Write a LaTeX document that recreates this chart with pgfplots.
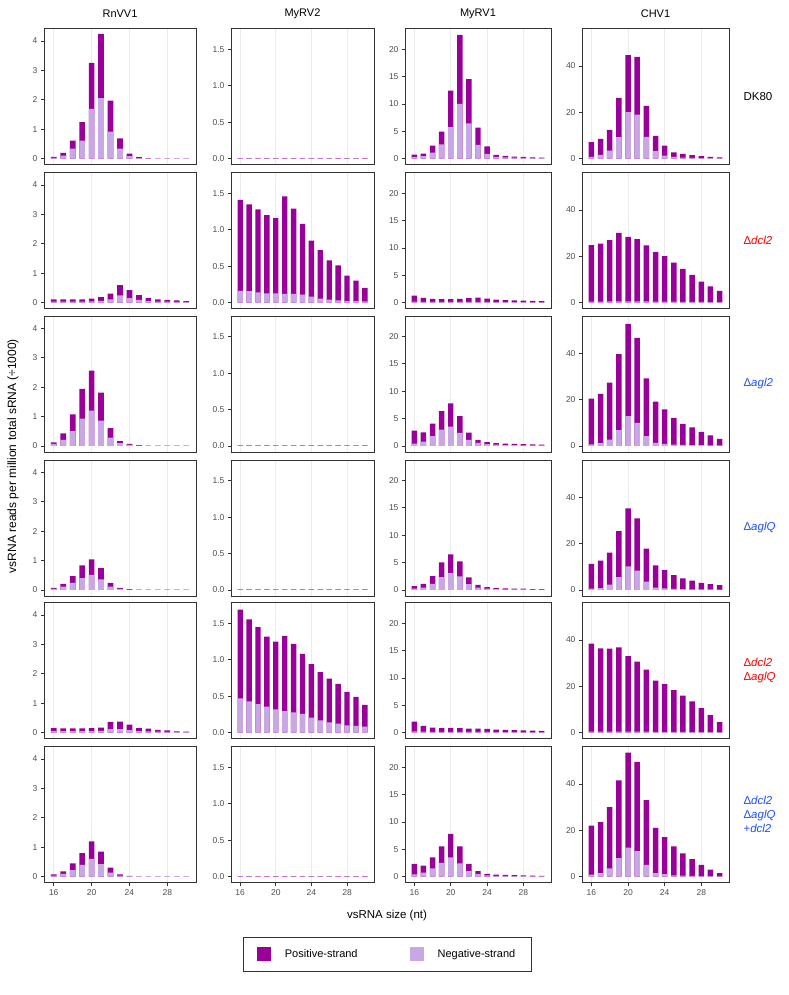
\documentclass[border=0pt]{standalone}
\usepackage{pgfplots}
\pgfplotsset{compat=1.18}
\usepackage{pgfplotstable}
\usepackage{fontspec}
\setmainfont{Liberation Sans}

\definecolor{posc}{HTML}{990099}
\definecolor{negc}{HTML}{C8A8E4}
\definecolor{gridc}{HTML}{EBEBEB}
\definecolor{bordc}{HTML}{333333}
\definecolor{tickc}{HTML}{4D4D4D}
\definecolor{dred}{HTML}{FF0000}
\definecolor{dblue}{HTML}{1F4FFF}

% RnVV1: total (t) and negative-strand (n) per row
\pgfplotstableread{
x  t1    n1    t2   n2   t3   n3   t4    n4    t5   n5    t6    n6
16 0.057 0.02  0.11 0.03 0.12 0.07 0.07  0.03  0.15 0.05  0.07  0.03
17 0.19  0.10  0.11 0.03 0.42 0.20 0.20  0.11  0.14 0.05  0.18  0.09
18 0.61  0.34  0.11 0.03 1.07 0.50 0.47  0.24  0.14 0.05  0.45  0.22
19 1.24  0.61  0.11 0.03 1.94 0.93 0.83  0.40  0.14 0.05  0.80  0.40
20 3.26  1.69  0.13 0.04 2.56 1.20 1.04  0.51  0.15 0.05  1.20  0.60
21 4.24  2.06  0.18 0.06 1.81 0.86 0.74  0.36  0.17 0.06  0.85  0.42
22 1.97  0.92  0.30 0.11 0.60 0.28 0.24  0.11  0.36 0.12  0.30  0.13
23 0.69  0.34  0.59 0.24 0.16 0.09 0.07  0.03  0.37 0.12  0.07  0.03
24 0.17  0.08  0.42 0.15 0.07 0.03 0.02  0.01  0.27 0.08  0.02  0.01
25 0.045 0.015 0.25 0.09 0.02 0.01 0.005 0.002 0.15 0.05  0.005 0.002
26 0.01  0.005 0.16 0.05 0.01 0.005 0.005 0.002 0.13 0.04 0.005 0.002
27 0.005 0.002 0.11 0.03 0.01 0.005 0.005 0.002 0.09 0.03 0.005 0.002
28 0.005 0.002 0.09 0.03 0.005 0.002 0.005 0.002 0.07 0.02 0.005 0.002
29 0.005 0.002 0.07 0.02 0.005 0.002 0.005 0.002 0.04 0.015 0.005 0.002
30 0.005 0.002 0.05 0.02 0.005 0.002 0.005 0.002 0.03 0.01 0.005 0.002
}\tA

% MyRV2
\pgfplotstableread{
x  t1    n1    t2   n2    t3    n3    t4    n4    t5    n5    t6    n6
16 0.005 0.003 1.41 0.16  0.005 0.003 0.005 0.003 1.69  0.47  0.005 0.003
17 0.005 0.003 1.35 0.155 0.005 0.003 0.005 0.003 1.555 0.43  0.005 0.003
18 0.005 0.003 1.28 0.14  0.005 0.003 0.005 0.003 1.45  0.39  0.005 0.003
19 0.005 0.003 1.20 0.127 0.005 0.003 0.005 0.003 1.32  0.355 0.005 0.003
20 0.005 0.003 1.16 0.127 0.005 0.003 0.005 0.003 1.25  0.32  0.005 0.003
21 0.005 0.003 1.46 0.12  0.005 0.003 0.005 0.003 1.33  0.295 0.005 0.003
22 0.005 0.003 1.29 0.12  0.005 0.003 0.005 0.003 1.22  0.277 0.005 0.003
23 0.005 0.003 1.08 0.11  0.005 0.003 0.005 0.003 1.08  0.255 0.005 0.003
24 0.005 0.003 0.85 0.08  0.005 0.003 0.005 0.003 0.94  0.205 0.005 0.003
25 0.005 0.003 0.72 0.055 0.005 0.003 0.005 0.003 0.83  0.168 0.005 0.003
26 0.005 0.003 0.58 0.04  0.005 0.003 0.005 0.003 0.74  0.14  0.005 0.003
27 0.005 0.003 0.51 0.03  0.005 0.003 0.005 0.003 0.67  0.123 0.005 0.003
28 0.005 0.003 0.37 0.02  0.005 0.003 0.005 0.003 0.56  0.10  0.005 0.003
29 0.005 0.003 0.30 0.02  0.005 0.003 0.005 0.003 0.49  0.09  0.005 0.003
30 0.005 0.003 0.20 0.015 0.005 0.003 0.005 0.003 0.38  0.08  0.005 0.003
}\tB

% MyRV1
\pgfplotstableread{
x  t1   n1    t2   n2   t3   n3   t4   n4   t5   n5   t6   n6
16 0.73 0.24  1.27 0.15 2.79 0.42 0.67 0.20 2.00 0.20 2.3  0.4
17 0.90 0.42  0.85 0.10 2.48 0.79 1.10 0.42 1.22 0.15 2.0  0.7
18 2.36 1.09  0.67 0.10 4.06 1.76 2.50 1.10 0.91 0.10 3.5  1.5
19 4.90 2.60  0.60 0.10 6.36 2.97 5.00 2.30 0.79 0.10 5.5  2.5
20 12.4 5.76  0.60 0.10 7.76 3.50 6.46 3.05 0.79 0.10 7.8  3.5
21 22.6 10.0  0.67 0.10 5.45 2.36 5.18 2.44 0.79 0.10 5.5  2.4
22 14.5 6.42  0.79 0.12 2.42 1.09 2.26 1.04 0.73 0.10 2.3  1.0
23 5.64 2.48  0.91 0.13 1.09 0.55 0.91 0.42 0.73 0.10 1.0  0.45
24 2.24 0.85  0.73 0.10 0.67 0.30 0.49 0.20 0.67 0.10 0.5  0.2
25 0.67 0.30  0.55 0.08 0.48 0.20 0.30 0.12 0.55 0.08 0.35 0.12
26 0.48 0.20  0.42 0.06 0.40 0.15 0.25 0.10 0.49 0.07 0.30 0.10
27 0.35 0.15  0.40 0.05 0.35 0.12 0.22 0.08 0.45 0.06 0.25 0.08
28 0.30 0.12  0.35 0.05 0.30 0.10 0.20 0.07 0.40 0.05 0.20 0.07
29 0.20 0.08  0.30 0.04 0.25 0.08 0.15 0.05 0.35 0.05 0.15 0.05
30 0.15 0.06  0.25 0.04 0.20 0.06 0.12 0.04 0.30 0.04 0.12 0.04
}\tC

% CHV1
\pgfplotstableread{
x  t1   n1    t2   n2   t3   n3   t4   n4   t5   n5   t6   n6
16 7.05 0.72  24.8 0.40 20.4 0.60 11.2 0.50 38.4 0.40 22.0 0.8
17 8.50 1.60  25.5 0.40 22.4 1.15 12.6 0.70 36.4 0.40 23.5 1.5
18 12.4 3.45  27.0 0.45 27.3 2.70 16.1 2.20 36.3 0.40 30.0 3.5
19 26.2 9.20  30.1 0.50 39.6 6.80 25.4 5.50 36.8 0.40 41.5 8.0
20 44.7 20.0  28.4 0.50 52.7 12.8 35.2 10.1 33.0 0.40 53.5 12.5
21 43.9 19.0  27.4 0.50 46.6 9.90 30.9 8.30 30.6 0.40 49.5 11.0
22 22.7 9.35  24.7 0.45 29.2 4.20 17.8 3.50 27.2 0.35 33.0 5.0
23 9.80 3.17  21.8 0.40 19.1 1.30 10.6 1.00 22.4 0.30 21.0 1.5
24 5.60 1.30  20.1 0.40 15.7 0.80 8.55 0.60 20.9 0.30 17.0 1.0
25 2.70 0.70  17.2 0.35 12.1 0.50 6.40 0.40 18.3 0.30 13.0 0.5
26 2.00 0.40  14.5 0.30 9.50 0.40 5.00 0.30 16.0 0.25 10.0 0.4
27 1.50 0.30  12.0 0.30 8.00 0.30 4.00 0.25 13.5 0.20 7.5  0.3
28 1.00 0.20  9.00 0.25 6.00 0.25 3.00 0.20 10.5 0.20 5.0  0.2
29 0.70 0.15  7.00 0.20 4.50 0.20 2.50 0.15 7.5  0.15 3.0  0.15
30 0.50 0.10  5.00 0.20 3.00 0.15 2.00 0.10 4.5  0.10 1.5  0.1
}\tD

\pgfplotsset{
  base/.style={
    scale only axis, height=136pt,
    xmin=14.97, xmax=31.03, xtick={16,20,24,28},
    xmajorgrids, major grid style={draw=gridc, line width=0.6pt},
    axis line style={draw=bordc, line width=0.9pt},
    tick align=outside, tick pos=left, major tick length=3pt,
    every tick/.style={draw=bordc, line width=0.6pt},
    tick label style={font=\fontsize{8.5}{10}\selectfont, text=tickc},
    /pgf/number format/assume math mode=true,
    xticklabels={}, major x tick style={draw=none},
  },
  cA/.style={base, width=152pt, ymin=-0.21, ymax=4.42, ytick={0,1,2,3,4}},
  cB/.style={base, width=143pt, ymin=-0.085, ymax=1.785, ytick={0,0.5,1,1.5},
    yticklabel style={/pgf/number format/.cd, fixed, fixed zerofill, precision=1}},
  cC/.style={base, width=146pt, ymin=-1.13, ymax=23.73, ytick={0,5,10,15,20}},
  cD/.style={base, width=147pt, ymin=-2.67, ymax=56.1, ytick={0,20,40}},
  bottom/.style={xticklabels={16,20,24,28}, major x tick style={draw=bordc, line width=0.6pt}},
  posbar/.style={ybar, bar width=0.6, bar shift=0pt, fill=posc, draw=none},
  negbar/.style={ybar, bar width=0.6, bar shift=0pt, fill=negc, draw=none},
}

% #1 column style, #2 left, #3 top, #4 table, #5 row, #6 extra options
\newcommand\panel[6]{%
  \begin{axis}[#1, at={(#2pt,-#3pt)}, anchor=north west, #6]
    \addplot[posbar] table[x=x, y=t#5]{#4};
    \addplot[negbar] table[x=x, y=n#5]{#4};
  \end{axis}}

\begin{document}
\begin{tikzpicture}
\useasboundingbox (0,0) rectangle (788pt,-995pt);

\foreach \r/\y in {1/28.7, 2/172.7, 3/316, 4/460, 5/602.7} {
  \panel{cA}{44}{\y}{\tA}{\r}{}
  \panel{cB}{231}{\y}{\tB}{\r}{}
  \panel{cC}{405}{\y}{\tC}{\r}{}
  \panel{cD}{582}{\y}{\tD}{\r}{}
}
\panel{cA}{44}{746.7}{\tA}{6}{bottom,
  legend entries={Positive-strand, Negative-strand},
  legend style={at={(2.257,-0.40)}, anchor=north, draw=bordc, line width=0.6pt,
    legend columns=2, font=\fontsize{11}{13}\selectfont,
    inner xsep=14pt, inner ysep=10pt,
    /tikz/every even column/.append style={column sep=50pt}},
  legend image code/.code={\fill[#1] (0pt,-7pt) rectangle (14pt,7pt); \path (26pt,0pt);},
}
\panel{cB}{231}{746.7}{\tB}{6}{bottom}
\panel{cC}{405}{746.7}{\tC}{6}{bottom}
\panel{cD}{582}{746.7}{\tD}{6}{bottom}

% column titles
\begin{scope}[every node/.style={font=\fontsize{11}{13}\selectfont}]
\node at (120pt,-14pt) {RnVV1};
\node at (302.5pt,-14pt) {MyRV2};
\node at (478pt,-14pt) {MyRV1};
\node at (655.5pt,-14pt) {CHV1};
\end{scope}

% row labels
\begin{scope}[every node/.style={font=\fontsize{11.5}{14}\selectfont, anchor=west, align=left}]
\node at (740pt,-96.7pt) {DK80};
\node[text=dred] at (740pt,-240.7pt) {Δ\textit{dcl2}};
\node[text=dblue] at (740pt,-384pt) {Δ\textit{agl2}};
\node[text=dblue] at (740pt,-528pt) {Δ\textit{aglQ}};
\node[text=dred] at (740pt,-670.7pt) {Δ\textit{dcl2}\\Δ\textit{aglQ}};
\node[text=dblue] at (740pt,-814.7pt) {Δ\textit{dcl2}\\Δ\textit{aglQ}\\+\textit{dcl2}};
\end{scope}

\node[rotate=90, font=\fontsize{12}{14}\selectfont] at (13pt,-456pt) {vsRNA reads per million total sRNA (÷1000)};
\node[font=\fontsize{11.5}{14}\selectfont] at (387pt,-916pt) {vsRNA size (nt)};
\end{tikzpicture}
\end{document}
